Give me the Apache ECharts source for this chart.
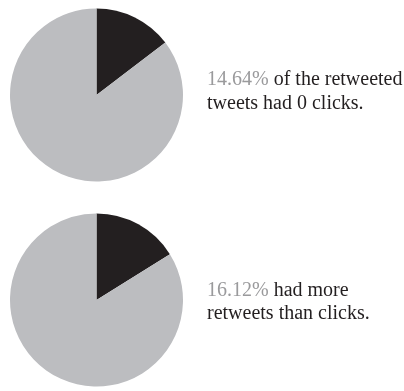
<!DOCTYPE html>
<html>
<head>
<meta charset="utf-8">
<script src="https://cdn.jsdelivr.net/npm/echarts@6/dist/echarts.min.js"></script>
<style>
  html, body { margin: 0; padding: 0; background: #ffffff; }
  #chart { width: 404px; height: 391px; }
</style>
</head>
<body>
<div id="chart"></div>
<script>
// Share of retweeted tweets in each highlighted group (percent)
const highlightShares = [14.64, 16.12];
const highlightNames = ['0 clicks', 'More retweets than clicks'];
const captionRest = [
  [' of the retweeted', 'tweets had 0 clicks.'],
  [' had more', 'retweets than clicks.']
];

const pieCenters = [[96.5, 95], [96.5, 300]];
const captionTops = [70, 280.5];
const darkColor = '#231f20';
const greyColor = '#bcbdc0';
const fontFamily = '"Liberation Serif", "DejaVu Serif", serif';

const chart = echarts.init(document.getElementById('chart'), null, { renderer: 'canvas' });

const series = highlightShares.map((v, i) => ({
  type: 'pie',
  center: pieCenters[i],
  radius: 86.5,
  startAngle: 90,
  clockwise: true,
  silent: true,
  label: { show: false },
  labelLine: { show: false },
  itemStyle: { borderWidth: 0 },
  data: [
    { name: highlightNames[i], value: v, itemStyle: { color: darkColor } },
    { name: 'Other', value: +(100 - v).toFixed(2), itemStyle: { color: greyColor } }
  ]
}));

const captions = highlightShares.map((v, i) => ({
  type: 'text',
  left: 207,
  top: captionTops[i],
  style: {
    text: '{pct|' + v.toFixed(2) + '%}{txt|' + captionRest[i][0] + '}\n{txt|' + captionRest[i][1] + '}',
    rich: {
      pct: { fill: '#9a9a9c', fontSize: 20, fontFamily: fontFamily, lineHeight: 23.5 },
      txt: { fill: darkColor, fontSize: 20, fontFamily: fontFamily, lineHeight: 23.5 }
    }
  }
}));

chart.setOption({
  animation: false,
  backgroundColor: '#ffffff',
  series: series,
  graphic: captions
});
</script>
</body>
</html>
